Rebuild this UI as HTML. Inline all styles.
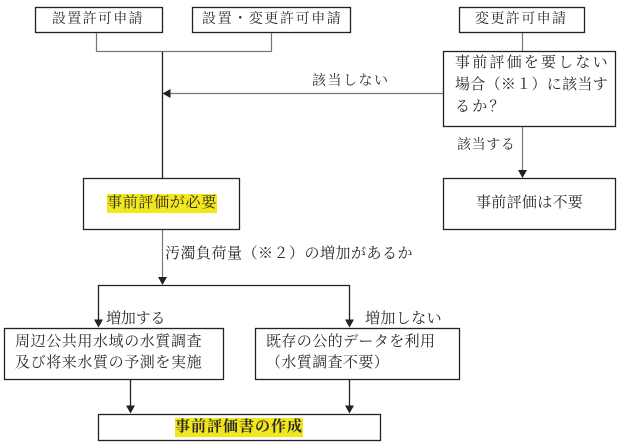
<!DOCTYPE html>
<html>
<head>
<meta charset="utf-8">
<style>
html,body{margin:0;padding:0;background:#fff;}
body{width:625px;height:448px;position:relative;overflow:hidden;
font-family:"Liberation Serif","Noto Serif CJK SC",serif;color:#2a2a2a;}
svg{position:absolute;left:0;top:0;}
.t{position:absolute;white-space:nowrap;font-size:15px;line-height:20px;}
.s14{font-size:14px;}
.hl{background:#f2e61c;line-height:19px;}
</style>
</head>
<body>
<svg width="625" height="448" viewBox="0 0 625 448">
  <g fill="none" stroke="#222" stroke-width="1.3">
    <rect x="35.5" y="7.5" width="127" height="25"/>
    <rect x="192.5" y="7.5" width="158" height="25"/>
    <rect x="459.5" y="7.5" width="125" height="25"/>
    <rect x="443.5" y="51.5" width="172" height="75"/>
    <rect x="83.5" y="178.5" width="156" height="51"/>
    <rect x="443.5" y="178.5" width="172" height="51"/>
    <rect x="4.5" y="328.5" width="219" height="51"/>
    <rect x="255.5" y="328.5" width="204" height="51"/>
    <rect x="98.5" y="414.5" width="282" height="26"/>
  </g>
  <g fill="none" stroke="#777" stroke-width="1.2">
    <polyline points="96.5,33 96.5,51.5 271.5,51.5 271.5,33"/>
    <line x1="169" y1="93.5" x2="443" y2="93.5"/>
    <line x1="522.5" y1="33" x2="522.5" y2="51"/>
    <line x1="522.5" y1="127" x2="522.5" y2="171"/>
    <line x1="162.5" y1="230" x2="162.5" y2="278"/>
  </g>
  <g fill="none" stroke="#222" stroke-width="1.3">
    <line x1="162.5" y1="51.5" x2="162.5" y2="178"/>
    <polyline points="98.5,320 98.5,285.5 349.5,285.5 349.5,320"/>
    <line x1="130.5" y1="380" x2="130.5" y2="406"/>
    <line x1="349.5" y1="380" x2="349.5" y2="406"/>
  </g>
  <g fill="#222" stroke="none">
    <polygon points="162.5,93.5 170.5,89 170.5,98"/>
    <polygon points="522.5,178 518,170 527,170"/>
    <polygon points="162.5,285 158,277 167,277"/>
    <polygon points="98.5,327.5 94,319.5 103,319.5"/>
    <polygon points="349.5,327.5 345,319.5 354,319.5"/>
    <polygon points="130.5,413.5 126,405.5 135,405.5"/>
    <polygon points="349.5,413.5 345,405.5 354,405.5"/>
  </g>
</svg>

<div class="t s14" style="left:52px;top:10px;letter-spacing:1.3px;">設置許可申請</div>
<div class="t s14" style="left:202px;top:10px;letter-spacing:1.6px;">設置・変更許可申請</div>
<div class="t s14" style="left:475px;top:10px;letter-spacing:1.4px;">変更許可申請</div>

<div class="t s14" style="left:312px;top:72px;letter-spacing:1.5px;">該当しない</div>

<div class="t" style="left:455px;top:53px;letter-spacing:2.2px;">事前評価を要しない</div>
<div class="t" style="left:455px;top:75px;letter-spacing:0.3px;">場合（※１）に該当す</div>
<div class="t" style="left:455px;top:97px;letter-spacing:2.2px;">るか？</div>

<div class="t s14" style="left:457px;top:136px;letter-spacing:0.6px;">該当する</div>

<div class="t" style="left:107px;top:193px;"><span class="hl" style="display:inline-block;letter-spacing:0.7px;">事前評価が必要</span></div>
<div class="t" style="left:476px;top:193px;letter-spacing:0.3px;">事前評価は不要</div>

<div class="t" style="left:165px;top:244px;letter-spacing:0.5px;">汚濁負荷量（※２）の増加があるか</div>

<div class="t" style="left:106px;top:309px;letter-spacing:-0.2px;">増加する</div>
<div class="t" style="left:365px;top:309px;letter-spacing:0.4px;">増加しない</div>

<div class="t" style="left:15px;top:332px;letter-spacing:0.6px;">周辺公共用水域の水質調査</div>
<div class="t" style="left:15px;top:353px;letter-spacing:0.6px;">及び将来水質の予測を実施</div>

<div class="t" style="left:266px;top:332px;letter-spacing:0.4px;">既存の公的データを利用</div>
<div class="t" style="left:266px;top:353px;letter-spacing:0.4px;">（水質調査不要）</div>

<div class="t" style="left:175px;top:417px;"><span class="hl" style="display:inline-block;font-weight:bold;letter-spacing:1px;">事前評価書の作成</span></div>
</body>
</html>
